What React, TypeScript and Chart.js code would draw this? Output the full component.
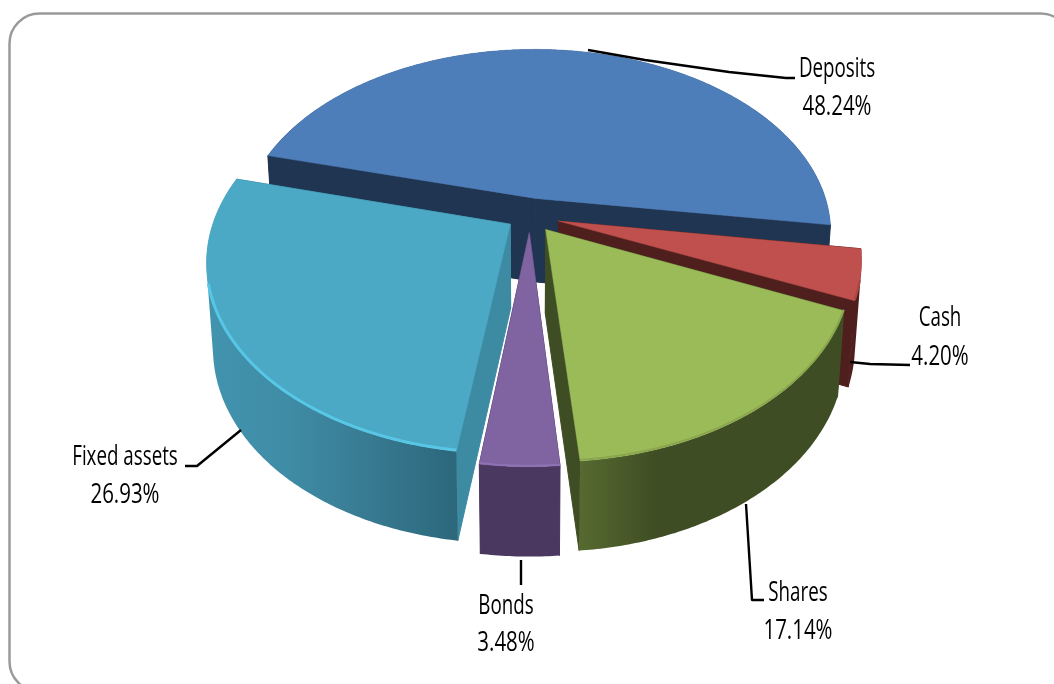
import { useEffect, useRef } from "react";
import { Chart, registerables } from "chart.js";

Chart.register(...registerables);

const categories = ["Deposits", "Cash", "Shares", "Bonds", "Fixed assets"];
const shares = [48.24, 4.2, 17.14, 3.48, 26.93];

const topColors = ["#4E7EBA", "#BF504D", "#9BBA58", "#8064A2", "#4BA9C5"];
const rimColors = [null, "#A84541", "#8AA64E", "#8F72B3", "#58C6E5"];
const innerWallColors = ["#1F3552", "#4F1F1E", "#3F4D24", "#4B3861", "#3D8AA3"];
const outerWallStops: [number, string][][] = [
  [[0, "#1F3552"], [1, "#1F3552"]],
  [[0, "#4F1F1E"], [1, "#4F1F1E"]],
  [[0, "#566A30"], [0.3, "#3F4D24"], [1, "#3F4D24"]],
  [[0, "#4B3861"], [1, "#4B3861"]],
  [[0, "#4293AE"], [0.3, "#3F8CA6"], [0.55, "#3A7F97"], [1, "#2C677B"]],
];
// Radial pull-out of each wedge, as a fraction of the pie radius.
const explode = [0.1, 0.1, 0.09, 0.09, 0.08];
// Back-to-front painting order.
const paintOrder = [0, 1, 4, 2, 3];

const labelLayout = [
  { x: 837, y: 69, vy: 107 },
  { x: 940, y: 318, vy: 357 },
  { x: 798, y: 593, vy: 631 },
  { x: 506, y: 606, vy: 643 },
  { x: 125, y: 457, vy: 495 },
];
const leaders = [
  [[588, 50], [645, 60], [729, 72], [786, 78], [795, 78]],
  [[850, 362], [870, 364], [910, 365]],
  [[746, 504], [752, 600], [764, 600]],
  [[521, 560], [521, 585]],
  [[241, 430], [197, 466], [185, 466]],
];

// Perspective view of the pie disc.
const VIEW = { cx: 530, cy: 216, a: 295, b: 183, k: 0.1875, depth: 84, depthK: 0.06, taper: 0.98 };

// Condensed label face: a regular font squeezed horizontally.
const LABEL_FONT = '28px "Open Sans"';
const NAME_SQUEEZE = 0.67;
const VALUE_SQUEEZE = 0.73;

function projectTop(u: number, v: number) {
  const w = 1 - VIEW.k * v;
  return { x: VIEW.cx + (VIEW.a * u) / w, y: VIEW.cy + (VIEW.b * v) / w };
}
function projectBottom(u: number, v: number) {
  const p = projectTop(u, v);
  return {
    x: VIEW.cx + (p.x - VIEW.cx) * VIEW.taper,
    y: p.y + VIEW.depth / (1 - VIEW.depthK * v),
  };
}

type Pt = { x: number; y: number };

function addPolygon(ctx: CanvasRenderingContext2D, pts: Pt[]) {
  pts.forEach((p, i) => (i ? ctx.lineTo(p.x, p.y) : ctx.moveTo(p.x, p.y)));
  ctx.closePath();
}

function paint(ctx: CanvasRenderingContext2D, fill: string | CanvasGradient, seam: number) {
  ctx.fillStyle = fill;
  ctx.fill();
  ctx.strokeStyle = fill;
  ctx.lineWidth = seam;
  ctx.stroke();
}

function fillPolygon(
  ctx: CanvasRenderingContext2D,
  pts: Pt[],
  fill: string | CanvasGradient,
  seam = 0.5
) {
  ctx.beginPath();
  addPolygon(ctx, pts);
  paint(ctx, fill, seam);
}

function signedArea(pts: Pt[]) {
  let sum = 0;
  pts.forEach((p, i) => {
    const q = pts[(i + 1) % pts.length];
    sum += p.x * q.y - q.x * p.y;
  });
  return sum;
}

const pie3d = {
  id: "pie3d",
  beforeDraw(chart: Chart) {
    const { ctx } = chart;
    ctx.save();
    ctx.fillStyle = "#FFFFFF";
    ctx.fillRect(0, 0, chart.width, chart.height);
    ctx.beginPath();
    ctx.roundRect(9.5, 13.5, 1061, 678, 30);
    ctx.strokeStyle = "#9A9A9A";
    ctx.lineWidth = 2.5;
    ctx.stroke();
    ctx.restore();
  },
  // Arc elements supply the wedge angles; each wedge is painted as an extruded solid.
  beforeDatasetDraw(chart: Chart, args: any) {
    const { ctx } = chart;
    const arcs = args.meta.data;
    ctx.save();
    ctx.lineJoin = "round";
    for (const i of paintOrder) {
      const arc = arcs[i];
      const start: number = arc.startAngle;
      const end: number = arc.endAngle;
      const mid = (start + end) / 2;
      const ou = Math.cos(mid) * explode[i];
      const ov = Math.sin(mid) * explode[i];
      const steps = Math.max(8, Math.ceil((end - start) / 0.01));
      const rim: [number, number, number][] = [];
      for (let s = 0; s <= steps; s++) {
        const t = start + ((end - start) * s) / steps;
        rim.push([ou + Math.cos(t), ov + Math.sin(t), t]);
      }
      const topArc = rim.map(([u, v]) => projectTop(u, v));
      const botArc = rim.map(([u, v]) => projectBottom(u, v));
      const apexTop = projectTop(ou, ov);
      const apexBot = projectBottom(ou, ov);

      // Flat walls along the two straight edges.
      fillPolygon(ctx, [apexTop, topArc[0], botArc[0], apexBot], innerWallColors[i], 1);
      fillPolygon(ctx, [apexTop, topArc[steps], botArc[steps], apexBot], innerWallColors[i], 1);

      // Curved outer wall: strips share one path, all wound the same way.
      const xs = botArc.map((p) => p.x);
      const grad = ctx.createLinearGradient(Math.min(...xs), 0, Math.max(...xs), 0);
      outerWallStops[i].forEach(([o, c]) => grad.addColorStop(o, c));
      ctx.beginPath();
      for (let s = 0; s < steps; s++) {
        const strip = [topArc[s], topArc[s + 1], botArc[s + 1], botArc[s]];
        addPolygon(ctx, signedArea(strip) < 0 ? strip.reverse() : strip);
      }
      ctx.fillStyle = grad;
      ctx.fill();

      // Top face.
      fillPolygon(ctx, [apexTop, ...topArc], topColors[i]);

      // Lit bevel along the front of the rim.
      const rimColor = rimColors[i];
      if (rimColor) {
        ctx.beginPath();
        let started = false;
        rim.forEach(([u, v, t]) => {
          if (Math.sin(t) < 0.3) return;
          const p = projectTop(u, v);
          if (started) ctx.lineTo(p.x, p.y - 1);
          else ctx.moveTo(p.x, p.y - 1);
          started = true;
        });
        ctx.strokeStyle = rimColor;
        ctx.lineWidth = i === 4 ? 3 : 2;
        ctx.stroke();
      }
    }
    ctx.restore();
    return false;
  },
  afterDraw(chart: Chart) {
    const { ctx } = chart;
    ctx.save();
    ctx.strokeStyle = "#000000";
    ctx.lineWidth = 2.4;
    ctx.lineJoin = "round";
    leaders.forEach((line) => {
      ctx.beginPath();
      line.forEach(([x, y], i) => (i ? ctx.lineTo(x, y) : ctx.moveTo(x, y)));
      ctx.stroke();
    });
    ctx.fillStyle = "#000000";
    ctx.textAlign = "center";
    ctx.textBaseline = "middle";
    ctx.font = LABEL_FONT;
    const put = (text: string, x: number, y: number, squeeze: number) => {
      ctx.save();
      ctx.translate(x, y);
      ctx.scale(squeeze, 1);
      ctx.fillText(text, 0, 0);
      ctx.restore();
    };
    categories.forEach((name, i) => {
      const pos = labelLayout[i];
      put(name, pos.x, pos.y, NAME_SQUEEZE);
      put(shares[i].toFixed(2) + "%", pos.x, pos.vy, VALUE_SQUEEZE);
    });
    ctx.restore();
  },
};

export default function App() {
  const ref = useRef<HTMLCanvasElement>(null);
  useEffect(() => {
    document.body.style.margin = "0";
    const chart = new Chart(ref.current!, {
      type: "pie",
      data: {
        labels: categories,
        datasets: [{ data: shares, backgroundColor: topColors, borderWidth: 0 }],
      },
      options: {
        responsive: false,
        animation: false,
        rotation: 284.7,
        plugins: { legend: { display: false }, tooltip: { enabled: false } },
      },
      plugins: [pie3d as any],
    });
    return () => chart.destroy();
  }, []);
  return <canvas ref={ref} width={1054} height={684} style={{ display: "block" }} />;
}
